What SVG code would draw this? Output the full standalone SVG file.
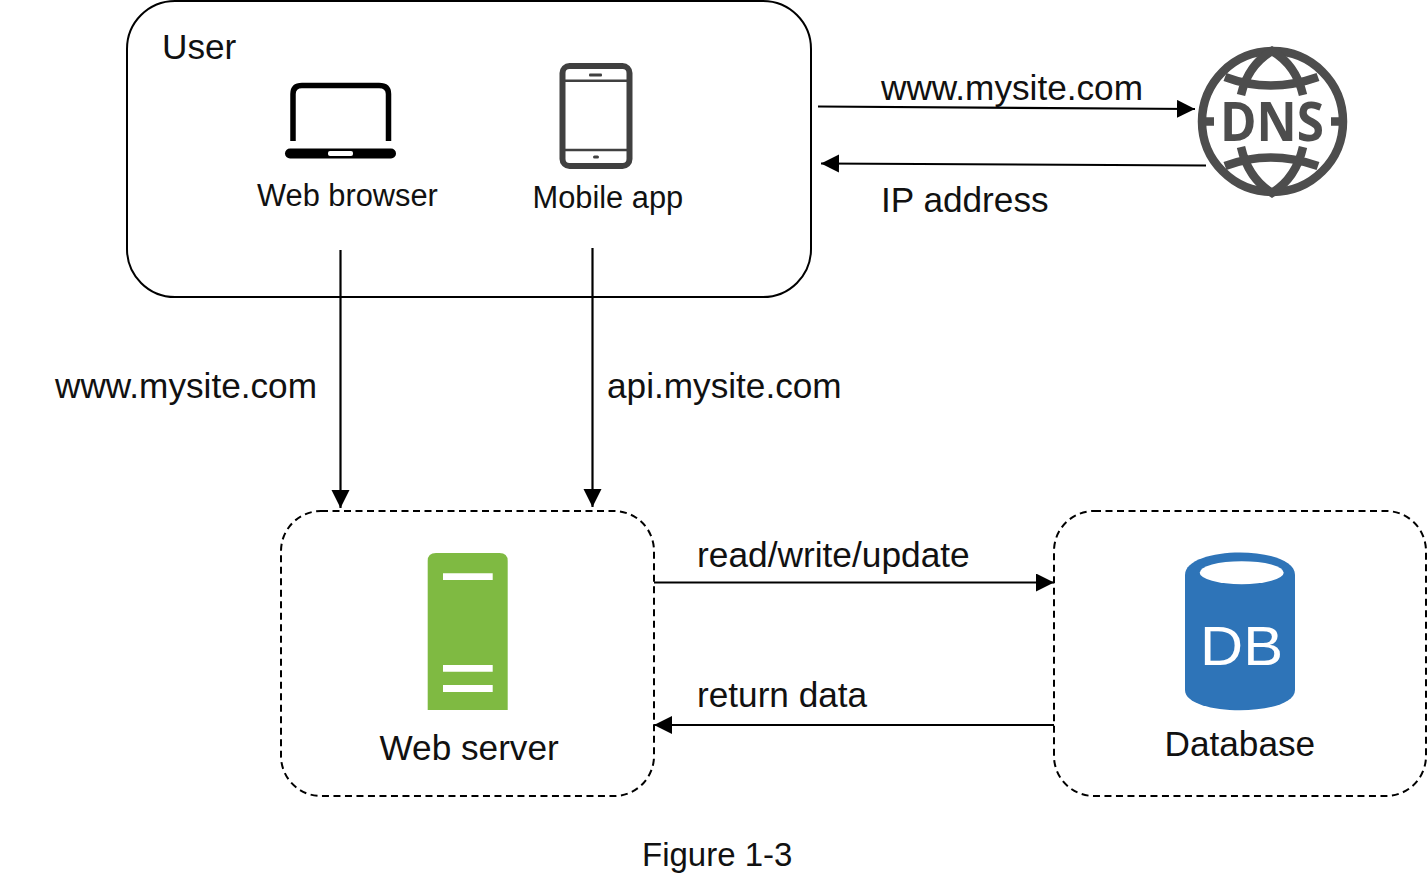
<svg xmlns="http://www.w3.org/2000/svg" width="1428" height="879" viewBox="0 0 1428 879">
<style>
text{font-family:"Liberation Sans",Arial,sans-serif;font-size:35.2px;fill:#111}
.sm{font-size:30.8px}
.box{fill:#fff;stroke:#000;stroke-width:2}
.dash{stroke-dasharray:7 4.5}
.conn{fill:none;stroke:#000;stroke-width:2.200;marker-end:url(#arrow)}
.globe{fill:none;stroke:#4d4d4d;stroke-width:8.500}
</style>
<defs>
<marker id="arrow" markerUnits="userSpaceOnUse" markerWidth="20" markerHeight="20" refX="18" refY="9" orient="auto"><path d="M0 0L18 9L0 18Z" fill="#000"/></marker>
</defs>
<rect width="1428" height="879" fill="#fff"/>
<g id="user">
<rect class="box" x="127" y="1" width="684" height="296" rx="48"/>
<text x="162" y="59">User</text>
</g>
<g id="web-browser">
<path d="M293 141V94Q293 85.500 302 85.500H379Q388.500 85.500 388.500 94V141" fill="none" stroke="#000" stroke-width="5.500"/>
<rect x="285" y="148.500" width="111" height="10" rx="5" fill="#000"/>
<rect x="328" y="151" width="25" height="5" rx="2" fill="#fff"/>
<text class="sm" x="257" y="205.500">Web browser</text>
</g>
<g id="mobile-app">
<rect x="562.500" y="66" width="67" height="100" rx="7" fill="#fff" stroke="#404040" stroke-width="6"/>
<path d="M563 80.700H629M563 150H629" stroke="#404040" stroke-width="2.500"/>
<rect x="589" y="73.500" width="13" height="3" rx="1" fill="#404040"/>
<rect x="593" y="155.500" width="6" height="3" rx="1.500" fill="#404040"/>
<text class="sm" x="532.500" y="207.500">Mobile app</text>
</g>
<g id="dns">
<circle class="globe" cx="1272.500" cy="121.500" r="70.500"/>
<path class="globe" d="M1225 77Q1270 94 1318 77M1241 95Q1248 65 1272 51Q1296 65 1303 95M1225 166Q1270 149 1318 166M1241 147Q1248 178 1272 193Q1296 178 1303 147M1205 121.500H1214M1331 121.500H1340"/>
<text x="1272" y="141" text-anchor="middle" textLength="104" lengthAdjust="spacingAndGlyphs" style="font-family:'Open Sans',sans-serif;font-size:53px;font-weight:700;fill:#4d4d4d">DNS</text>
</g>
<g id="web-server">
<rect class="box dash" x="281" y="511" width="373" height="285" rx="40"/>
<path d="M427.700 710V561Q427.700 553 436 553H499.500Q507.700 553 507.700 561V710Z" fill="#7fba42"/>
<path d="M443 573.300h49.700v6.700h-49.700zM443 665h49.700v6.700h-49.700zM443 685h49.700v7h-49.700z" fill="#fff"/>
<text x="379.500" y="759.500">Web server</text>
</g>
<g id="database">
<rect class="box dash" x="1054" y="511" width="372" height="285" rx="40"/>
<path d="M1185 575C1185 545 1295 545 1295 575V690C1295 717 1185 717 1185 690Z" fill="#2e74b8"/>
<ellipse cx="1241.700" cy="572.700" rx="42" ry="11.500" fill="#fff"/>
<text x="1200" y="664.500" textLength="83" lengthAdjust="spacingAndGlyphs" style="font-size:56px;fill:#fff">DB</text>
<text x="1164.500" y="755.500">Database</text>
</g>
<g id="connectors">
<path class="conn" d="M818 106.500L1195 109"/>
<path class="conn" d="M1206 165.500L821 163.500"/>
<path class="conn" d="M340.500 250V508"/>
<path class="conn" d="M592.500 248V507"/>
<path class="conn" d="M654 582.500H1054"/>
<path class="conn" d="M1054 725H654"/>
</g>
<g id="labels">
<text x="881" y="99.500">www.mysite.com</text>
<text x="881" y="211.500">IP address</text>
<text x="55" y="397.500">www.mysite.com</text>
<text x="607" y="397.500">api.mysite.com</text>
<text x="697" y="567" style="font-size:35.300px">read/write/update</text>
<text x="697" y="706.500">return data</text>
<text x="642" y="866" style="font-size:33px">Figure 1-3</text>
</g>
</svg>
